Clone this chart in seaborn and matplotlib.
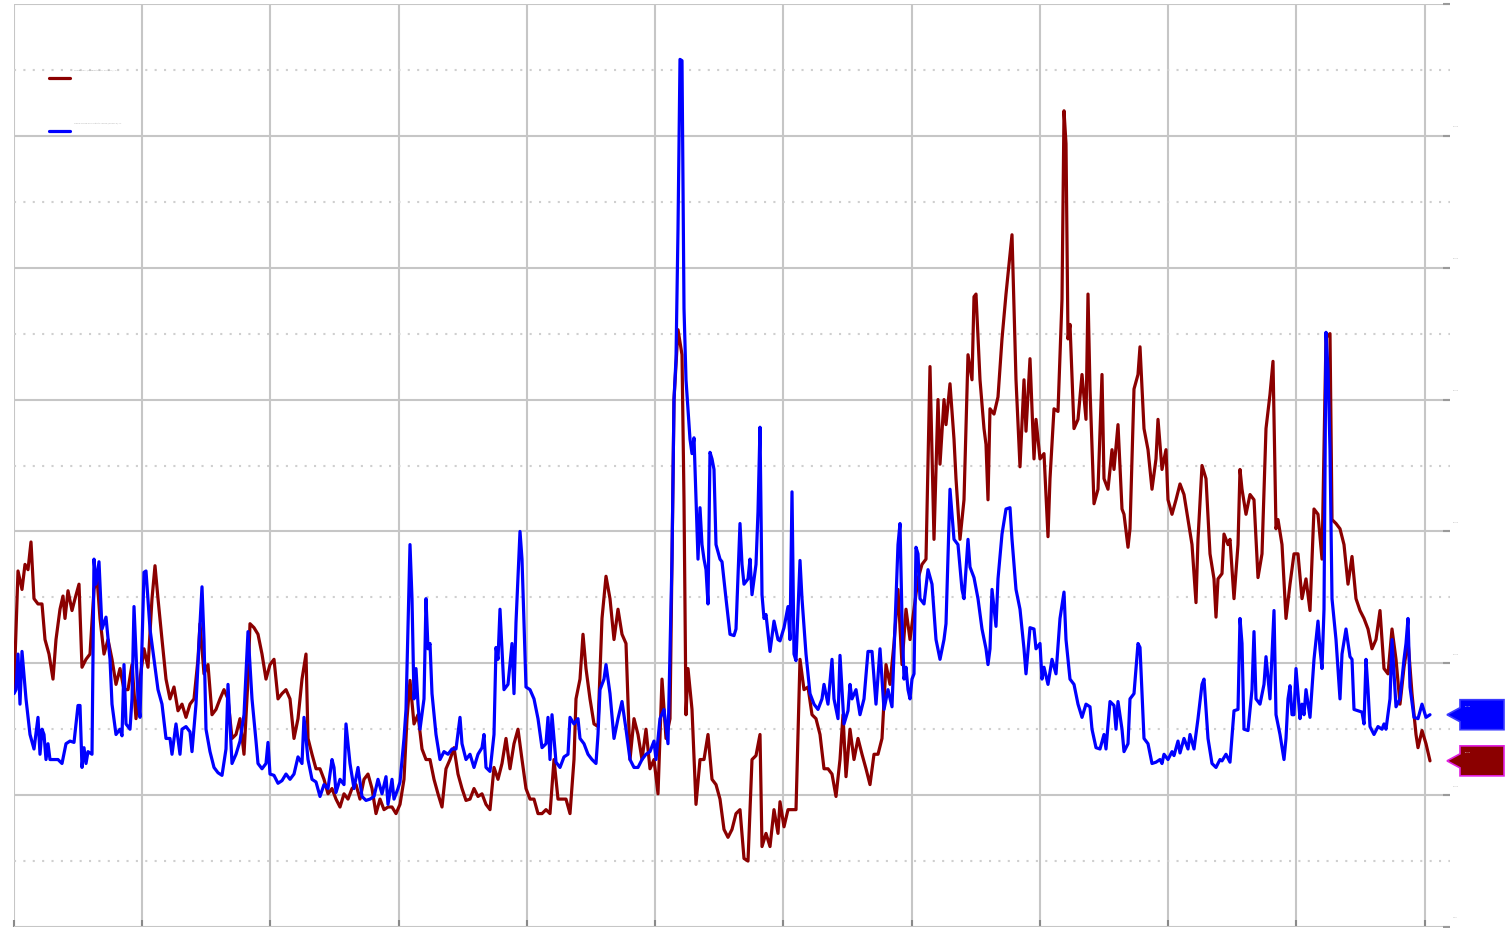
import matplotlib
matplotlib.use("Agg")
import matplotlib.pyplot as plt
import matplotlib.transforms as mtransforms
from matplotlib.patches import Polygon
from matplotlib.ticker import MultipleLocator, NullFormatter, FuncFormatter
import pandas as pd
import seaborn as sns

# x = period index (about 32 periods per year), y = volatility in %
red_name = "NYMEX WTI (Unadjusted for Rollover), %"
blue_name = "CBOE Crude Oil Volatility Index (OVXCLS), %"

red = [
    (0, 18.0), (1, 27.0), (2, 25.6), (2.75, 27.5), (3.5, 27.1), (4.25, 29.2), (5, 24.9), (6, 24.5), (7, 24.5),
    (7.75, 21.8), (8.75, 20.7), (9.75, 18.8), (10.5, 21.8), (11.5, 24.1), (12.25, 25.1), (12.75, 23.4), (13.5, 25.5),
    (14.5, 24.0), (15.25, 24.9), (16.25, 26.0), (17, 19.7), (18, 20.3), (19, 20.7), (20, 25.6), (20.75, 26.5),
    (21.5, 23.4), (22.5, 20.7), (23.5, 21.8), (24.5, 20.3), (25.5, 18.4), (26.5, 19.6), (27.5, 18.0), (28.5, 18.0),
    (29.5, 19.9), (30.5, 15.8), (31.5, 18.8), (32.5, 21.1), (33.5, 19.7), (34.5, 24.9), (35.25, 27.4), (36, 24.9),
    (37, 21.8), (38, 18.8), (39, 17.3), (40, 18.2), (41, 16.4), (42, 16.9), (43, 15.9), (44, 16.9), (45, 17.3),
    (46, 20.3), (46.5, 23.0), (47.5, 19.2), (48.5, 19.9), (49.5, 16.1), (50.5, 16.5), (51.5, 17.3), (52.5, 18.0),
    (53.5, 17.3), (54.5, 14.3), (55.5, 14.6), (56.5, 15.8), (57.5, 13.1), (58.5, 18.8), (59, 23.0), (60, 22.7),
    (61, 22.2), (62, 20.7), (63, 18.8), (64, 19.9), (65, 20.3), (66, 17.3), (67, 17.7), (68, 18.0), (69, 17.3),
    (70, 14.3), (71, 15.8), (72, 18.8), (73, 20.7), (73.5, 14.3), (74.5, 13.1), (75.5, 12.0), (76.5, 12.0),
    (77.5, 11.2), (78.5, 10.1), (79.5, 10.5), (80.5, 9.7), (81.5, 9.1), (82.5, 10.1), (83.5, 9.7), (84.5, 10.5),
    (85.5, 10.8), (86.5, 9.7), (87.5, 11.2), (88.5, 11.6), (89.5, 10.5), (90.5, 8.6), (91.5, 9.7), (92.5, 8.9),
    (93.5, 9.1), (94.5, 9.1), (95.5, 8.6), (96.5, 9.3), (97.5, 11.2), (98.25, 15.8), (99, 18.7), (100, 15.4),
    (101, 16.1), (102, 13.5), (103, 12.7), (104, 12.7), (105, 11.2), (106, 10.1), (107, 9.1), (108, 12.0),
    (109, 12.7), (110, 13.6), (111, 11.6), (112, 10.5), (113, 9.6), (114, 9.7), (115, 10.5), (116, 9.9),
    (117, 10.1), (118, 9.3), (119, 8.9), (120, 12.1), (121, 11.2), (122, 12.4), (123, 14.3), (124, 12.0),
    (125, 13.9), (126, 15.0), (127, 12.7), (128, 10.5), (129, 9.7), (130, 9.7), (131, 8.6), (132, 8.6),
    (133, 8.9), (134, 8.6), (135, 12.7), (136, 9.7), (137, 9.7), (138, 9.7), (139, 8.6), (140, 12.7),
    (140.5, 17.3), (141.5, 18.8), (142.25, 22.2), (143, 19.6), (144, 17.3), (145, 15.4), (146, 15.2), (147, 23.4),
    (148, 26.6), (149, 24.9), (150, 21.8), (151, 24.1), (152, 22.2), (153, 21.5), (154, 12.7), (155, 15.8),
    (156, 14.6), (157, 12.7), (158, 15.0), (159, 12.0), (160, 12.7), (161, 10.1), (162, 18.8), (163, 14.3),
    (164, 15.8), (165, 40.0), (166, 45.3), (167, 43.4), (167.5, 32.4), (168, 16.1), (168.5, 19.6), (169.5, 16.5),
    (170.5, 9.3), (171.5, 12.7), (172.5, 12.7), (173.5, 14.6), (174.5, 11.2), (175.5, 10.8), (176.5, 9.7),
    (177.5, 7.4), (178.5, 6.8), (179.5, 7.4), (180.5, 8.6), (181.5, 8.9), (182.5, 5.2), (183.5, 5.0), (184.5, 12.7),
    (185.5, 13.0), (186.5, 14.6), (187, 6.1), (188, 7.1), (189, 6.1), (190, 8.9), (191, 7.1), (191.5, 9.5),
    (192.5, 7.6), (193.5, 8.9), (194.5, 8.9), (195.5, 8.9), (196.5, 20.3), (197.5, 18.0), (198.5, 18.2),
    (199.5, 16.1), (200.5, 15.8), (201.5, 14.6), (202.5, 12.0), (203.5, 12.0), (204.5, 11.6), (205.5, 9.9),
    (206.5, 12.7), (207.25, 16.1), (208, 11.4), (209, 15.0), (210, 12.7), (211, 14.3), (212, 13.1), (213, 12.0),
    (214, 10.8), (215, 13.1), (216, 13.1), (217, 14.3), (218, 19.9), (219, 18.4), (220, 21.5), (221, 25.6),
    (222, 19.9), (223, 24.1), (224, 21.8), (225, 24.1), (226, 26.4), (227, 27.5), (228, 27.9), (229, 42.5),
    (230, 29.4), (231, 40.0), (231.5, 35.1), (232.5, 40.0), (233, 38.1), (234, 41.2), (235, 37.0), (235.5, 34.0),
    (236.5, 29.4), (237.5, 32.4), (238.5, 43.4), (239.5, 41.5), (240, 47.8), (240.5, 48.0), (241.5, 41.5),
    (242.5, 37.8), (243, 36.6), (243.5, 32.4), (244, 39.3), (245, 38.9), (246, 40.2), (247, 44.6), (248, 48.0),
    (249, 51.0), (249.5, 52.5), (250.5, 41.5), (251.5, 34.9), (252.5, 41.5), (253, 37.6), (254, 43.1), (255, 35.5),
    (255.5, 38.5), (256.5, 35.5), (257.5, 35.9), (258.5, 29.6), (259, 34.0), (260, 39.3), (261, 39.1), (262, 47.6),
    (262.5, 61.9), (263, 59.4), (263.5, 44.6), (264, 45.7), (265, 37.8), (266, 38.5), (267, 41.9), (268, 38.5),
    (268.5, 48.0), (269, 40.8), (270, 32.1), (271, 33.2), (272, 41.9), (272.5, 34.0), (273.5, 33.2), (274.5, 36.2),
    (275, 34.7), (276, 38.1), (277, 31.7), (277.5, 31.3), (278.5, 28.8), (279, 30.2), (280, 40.8), (281, 41.9),
    (281.5, 44.0), (282.5, 37.8), (283.5, 36.2), (284.5, 33.2), (285.5, 35.5), (286, 38.5), (287, 34.7),
    (288, 36.2), (288.5, 32.4), (289.5, 31.3), (290.5, 32.4), (291.5, 33.6), (292.5, 32.8), (293.5, 30.9),
    (294.5, 29.0), (295.5, 24.6), (296, 29.4), (297, 35.0), (298, 34.0), (299, 28.3), (300, 26.4), (300.5, 23.5),
    (301, 26.4), (302, 26.8), (302.5, 29.8), (303.5, 29.0), (304, 29.4), (305, 24.9), (306, 29.0), (306.5, 34.7),
    (307, 33.2), (308, 31.3), (309, 32.8), (310, 32.4), (311, 26.5), (312, 28.3), (313, 37.8), (314, 40.4),
    (314.75, 42.9), (315.5, 30.2), (316, 30.9), (317, 29.0), (318, 23.4), (319, 26.0), (320, 28.3), (321, 28.3),
    (322, 24.9), (323, 26.4), (324, 24.0), (325, 31.7), (326, 31.3), (327, 27.9), (328, 44.7), (329, 45.0),
    (329.5, 30.9), (330.5, 30.6), (331.5, 30.2), (332.5, 29.0), (333.5, 26.0), (334.5, 28.1), (335.5, 24.9),
    (336.5, 24.0), (337.5, 23.4), (338.5, 22.6), (339.5, 21.1), (340.5, 21.8), (341.5, 24.0), (342.5, 19.6),
    (343.5, 19.2), (344.5, 22.6), (345.5, 20.3), (346.5, 16.9), (347.5, 19.7), (348.5, 21.7), (349.5, 17.7),
    (350.5, 14.6), (351, 13.6), (352, 14.9), (353, 13.9), (354, 12.6),
]

blue = [
    (0, 17.7), (0.5, 18.0), (1, 20.7), (1.5, 16.9), (2, 20.9), (3, 17.3), (4, 14.6), (5, 13.5), (6, 15.9),
    (6.5, 13.1), (7, 15.0), (7.5, 14.6), (8, 12.7), (8.5, 13.9), (9, 12.7), (10, 12.7), (11, 12.7), (12, 12.4),
    (13, 13.9), (14, 14.1), (15, 14.0), (16, 16.8), (16.5, 16.8), (17, 12.1), (17.5, 13.6), (18, 12.4),
    (18.5, 13.3), (19.5, 13.1), (20, 27.9), (20.5, 26.0), (21.25, 27.7), (22, 22.6), (23, 23.5), (24, 20.3),
    (24.5, 16.9), (25.5, 14.6), (26.5, 15.0), (27, 14.5), (27.5, 19.9), (28, 15.4), (29, 15.0), (29.5, 17.3),
    (30, 24.3), (31, 17.3), (31.5, 15.9), (32.5, 26.9), (33, 27.0), (34, 22.6), (35, 20.3), (36, 18.0), (37, 16.9),
    (38, 14.3), (39, 14.3), (39.5, 13.1), (40.5, 15.4), (41.5, 13.1), (42, 15.0), (43, 15.2), (44, 14.8),
    (44.5, 13.3), (45.5, 16.9), (46.5, 23.0), (47, 25.8), (47.5, 21.8), (48, 15.0), (49, 13.3), (50, 12.1),
    (51, 11.7), (52, 11.5), (53, 13.5), (53.5, 18.4), (54.5, 12.4), (55.5, 13.1), (56.5, 14.1), (57.5, 16.1),
    (58.5, 22.4), (59.5, 17.3), (60.5, 14.1), (61, 12.4), (62, 12.0), (63, 12.4), (63.5, 14.0), (64, 11.6),
    (65, 11.5), (66, 10.9), (67, 11.1), (68, 11.6), (69, 11.2), (70, 11.6), (71, 12.9), (72, 12.4), (72.5, 15.9),
    (73.5, 12.7), (74.5, 11.2), (75.5, 11.0), (76.5, 9.9), (77.5, 10.8), (78.5, 10.5), (79.5, 12.7), (80, 12.1),
    (80.5, 10.2), (81.5, 11.2), (82.5, 10.8), (83, 15.4), (84, 12.4), (85, 10.5), (86, 12.1), (87, 9.9), (88, 9.6),
    (89, 9.7), (90, 9.9), (91, 11.2), (92, 10.1), (93, 11.4), (93.5, 9.3), (94.5, 11.2), (95, 9.7), (96, 10.5),
    (96.5, 11.0), (97.5, 14.3), (98, 16.5), (99, 29.0), (99.5, 24.9), (100, 17.3), (100.5, 19.6), (101, 16.9),
    (101.5, 15.0), (102.5, 17.3), (103, 24.9), (103.5, 21.1), (104, 21.5), (104.5, 17.7), (105.5, 14.6),
    (106.5, 12.7), (107.5, 13.3), (108.5, 13.1), (109.5, 13.5), (110.5, 13.5), (111.5, 15.9), (112, 13.9),
    (113, 12.7), (114, 13.1), (115, 12.1), (116, 13.1), (117, 13.6), (117.5, 14.6), (118, 12.1), (119, 11.8),
    (120, 14.6), (120.5, 21.2), (121, 20.3), (121.5, 24.1), (122.5, 18.0), (123.5, 18.4), (124.5, 21.5),
    (125, 17.7), (125.5, 23.1), (126.5, 30.0), (127, 27.9), (128, 18.2), (129, 18.0), (130, 17.3), (131, 15.8),
    (132, 13.6), (133, 13.9), (133.5, 15.9), (134, 12.7), (134.5, 16.1), (135.5, 12.5), (136.5, 12.1),
    (137.5, 12.9), (138.5, 13.1), (139, 15.9), (140, 15.4), (141, 15.8), (141.5, 14.3), (142.5, 13.9),
    (143.5, 13.1), (144.5, 12.7), (145.5, 12.4), (146, 14.6), (146.5, 18.0), (147.5, 18.8), (148, 19.9),
    (149, 17.7), (150, 14.3), (151, 15.8), (152, 17.1), (153, 15.0), (154, 12.7), (155, 12.1), (156, 12.1),
    (157, 12.7), (158, 13.1), (159, 13.3), (160, 14.1), (160.5, 12.7), (161.5, 15.8), (162.5, 16.5),
    (163.5, 13.9), (164.5, 27.9), (165, 40.0), (165.5, 43.1), (166, 52.9), (166.5, 65.8), (167, 65.7),
    (167.5, 46.9), (168, 41.5), (169, 37.0), (169.5, 35.9), (170, 37.1), (171, 27.9), (171.5, 31.8), (172, 29.0),
    (172.5, 27.9), (173, 27.1), (173.5, 24.5), (174, 36.0), (174.5, 35.5), (175, 34.7), (175.5, 29.0),
    (176.5, 27.9), (177, 27.7), (178, 24.9), (179, 22.2), (180, 22.1), (180.5, 22.6), (181.5, 30.6), (182, 27.5),
    (182.5, 26.0), (183.5, 26.4), (184, 27.9), (184.5, 25.2), (185.5, 27.5), (186, 31.5), (186.5, 37.9),
    (187, 25.2), (187.5, 23.4), (188, 23.7), (189, 20.9), (190, 23.2), (191, 21.8), (191.5, 21.7), (192.5, 22.7),
    (193.5, 24.3), (194, 21.8), (194.5, 33.0), (195, 20.7), (195.5, 20.2), (196.5, 27.8), (197, 24.9), (198, 20.7),
    (199, 17.7), (200, 16.9), (201, 16.5), (202, 17.3), (202.5, 18.4), (203.5, 16.9), (204.5, 20.3), (205, 17.3),
    (206, 15.8), (206.5, 20.6), (207.5, 15.4), (208.5, 16.4), (209, 18.4), (209.5, 17.3), (210.5, 18.0),
    (211.5, 16.1), (212.5, 17.3), (213.5, 20.9), (214.5, 20.9), (215.5, 16.9), (216.5, 21.1), (217.5, 16.5),
    (218.5, 18.0), (219.5, 16.7), (220.5, 24.9), (221, 29.0), (221.5, 30.6), (222, 23.4), (222.5, 18.8),
    (223, 19.7), (223.5, 18.0), (224, 17.3), (224.5, 18.8), (225, 19.2), (225.5, 28.8), (226, 28.3),
    (226.5, 24.9), (227.5, 24.5), (228.5, 27.1), (229.5, 26.0), (230.5, 21.8), (231.5, 20.3), (232.5, 21.8),
    (233, 23.0), (234, 33.2), (235, 29.4), (236, 29.0), (237, 25.6), (237.5, 24.9), (238.5, 29.4), (239, 27.3),
    (240, 26.5), (241, 24.9), (242, 22.6), (243, 21.1), (243.5, 19.9), (244, 21.1), (244.5, 25.6), (245.5, 22.8),
    (246, 26.4), (247, 29.8), (248, 31.7), (249, 31.8), (249.5, 29.4), (250.5, 25.6), (251.5, 24.1),
    (252.5, 21.1), (253, 19.2), (254, 22.7), (255, 22.6), (255.5, 21.1), (256.5, 21.5), (257, 18.8), (257.5, 19.7),
    (258.5, 18.4), (259.5, 20.3), (260.5, 19.2), (261.5, 23.4), (262.5, 25.4), (263, 21.8), (264, 18.8),
    (265, 18.4), (266, 16.9), (267, 15.9), (268, 16.9), (269, 16.7), (269.5, 15.0), (270.5, 13.6), (271.5, 13.5),
    (272.5, 14.6), (273, 13.5), (274, 17.1), (275, 16.8), (275.5, 15.0), (276, 17.1), (277, 15.0), (277.5, 13.3),
    (278.5, 13.9), (279, 17.3), (280, 17.7), (281, 21.5), (281.5, 21.2), (282.5, 14.3), (283.5, 13.9),
    (284.5, 12.4), (285.5, 12.5), (286.5, 12.7), (287, 12.4), (287.5, 13.1), (288.5, 12.7), (289.5, 13.3),
    (290, 13.0), (291, 14.1), (291.5, 13.2), (292.5, 14.3), (293.5, 13.5), (294, 14.6), (295, 13.5), (296, 15.8),
    (297, 18.4), (297.5, 18.8), (298.5, 14.3), (299.5, 12.4), (300.5, 12.1), (301.5, 12.7), (302, 12.6),
    (303, 13.1), (304, 12.5), (305, 16.4), (306, 16.5), (306.5, 23.4), (307, 21.5), (307.5, 15.0), (308.5, 14.9),
    (309.5, 18.0), (310, 22.4), (310.5, 17.3), (311.5, 16.9), (312.5, 18.4), (313, 20.5), (314, 17.3), (315, 24.0),
    (315.5, 16.1), (316.5, 14.6), (317.5, 12.7), (318, 14.3), (318.5, 17.3), (319, 18.3), (319.5, 16.1),
    (320, 16.1), (320.5, 19.6), (321.5, 15.8), (322, 16.9), (322.5, 16.1), (323, 18.0), (324, 15.9), (325, 20.3),
    (326, 23.2), (326.5, 21.1), (327, 19.6), (327.5, 24.1), (328, 45.1), (328.5, 42.3), (329, 36.2),
    (329.5, 24.9), (330.5, 21.8), (331.5, 17.3), (332, 20.7), (333, 22.6), (334, 20.5), (334.5, 20.3),
    (335, 16.5), (336, 16.4), (337, 16.3), (337.5, 15.4), (338, 20.3), (338.5, 18.0), (339, 15.2), (340, 14.6),
    (341, 15.2), (342, 15.0), (342.5, 15.4), (343, 15.0), (344, 17.3), (344.5, 21.8), (345.5, 16.7),
    (346.5, 17.3), (347.5, 20.3), (348, 21.5), (348.5, 23.4), (349, 18.2), (350, 15.9), (351, 15.8), (352, 16.9),
    (353, 15.9), (354, 16.1),
]

red_color = '#8b0000'
blue_color = '#0000ff'

df_red = pd.DataFrame(red, columns=['period', 'value'])
df_red['series'] = red_name
df_blue = pd.DataFrame(blue, columns=['period', 'value'])
df_blue['series'] = blue_name
df = pd.concat([df_red, df_blue], ignore_index=True)

sns.set_style('white')

fig = plt.figure(figsize=(15.09, 9.29), dpi=100)
ax = fig.add_axes([14 / 1509, 1 / 929, 1436 / 1509, 923 / 929])

sns.lineplot(data=df, x='period', y='value', hue='series', hue_order=[red_name, blue_name],
             palette={red_name: red_color, blue_name: blue_color}, linewidth=2.3,
             sort=False, estimator=None, errorbar=None, ax=ax)

ax.set_xlim(0, 359)
ax.set_ylim(0, 70)
ax.set_xlabel('')
ax.set_ylabel('')
for s in ax.spines.values():
    s.set_visible(False)

ax.xaxis.set_major_locator(MultipleLocator(32.06))
ax.xaxis.set_major_formatter(NullFormatter())
ax.yaxis.set_major_locator(MultipleLocator(10))
ax.yaxis.set_minor_locator(MultipleLocator(5))
# the top gridline label sits above the figure edge in the original, so leave it empty
ax.yaxis.set_major_formatter(FuncFormatter(lambda v, pos: '' if v >= 69.9 else f'{v:.2f}'))
ax.yaxis.set_minor_formatter(NullFormatter())
ax.yaxis.tick_right()

ax.grid(which='major', axis='both', color='#c6c6c6', linewidth=1.5, linestyle='-')
ax.grid(which='minor', axis='y', color='#cfcfcf', linewidth=1.5, linestyle=(0, (1, 3.5)))
ax.set_axisbelow(True)

ax.tick_params(axis='x', which='major', direction='in', length=5, width=1.5, color='#8a8a8a',
               bottom=True, labelbottom=False)
ax.tick_params(axis='y', which='major', direction='in', length=5, width=1.5, color='#9a9a9a',
               right=True, left=False, labelright=True, labelleft=False,
               labelsize=1.5, labelcolor='#b5b5b5', pad=2)
ax.tick_params(axis='y', which='minor', length=0)

# legend in the top left corner, tiny gray text above each line sample
sns.move_legend(ax, 'upper left', bbox_to_anchor=(0.0244, 0.9202), frameon=False, title=None,
                fontsize=1.5, labelspacing=24.5, handlelength=10.1, handletextpad=1.9,
                borderaxespad=0, borderpad=0)
leg = ax.get_legend()
up = mtransforms.ScaledTranslation(0, 0.1, fig.dpi_scale_trans)
for txt in leg.get_texts():
    txt.set_color('#a8a8a8')
    txt.set_transform(txt.get_transform() + up)
for line in leg.get_lines():
    line.set_linewidth(2.3)

fig.canvas.draw()
for lab in ax.get_yticklabels():
    lab.set_transform(lab.get_transform() + up)

# price tags for the last value of each series
right_px = ax.transData.transform((359, 0))[0]
for pts, fill, edge in [(blue, blue_color, '#3a3aff'), (red, red_color, '#e020e0')]:
    last = pts[-1][1]
    yc = ax.transData.transform((359, last))[1]
    x0 = right_px
    verts = [(x0 - 3, yc), (x0 + 10, yc + 7), (x0 + 10, yc + 15), (x0 + 54, yc + 15),
             (x0 + 54, yc - 15), (x0 + 10, yc - 15), (x0 + 10, yc - 7)]
    tag = Polygon(verts, closed=True, facecolor=fill, edgecolor=edge, linewidth=1.2,
                  transform=mtransforms.IdentityTransform())
    fig.add_artist(tag)
    fig.text((x0 + 15) / fig.bbox.width, (yc + 10) / fig.bbox.height, f'{last:.2f}',
             fontsize=1.5, color='#dddddd', va='top', ha='left')

fig.savefig('out.png', dpi=100, facecolor='white')
